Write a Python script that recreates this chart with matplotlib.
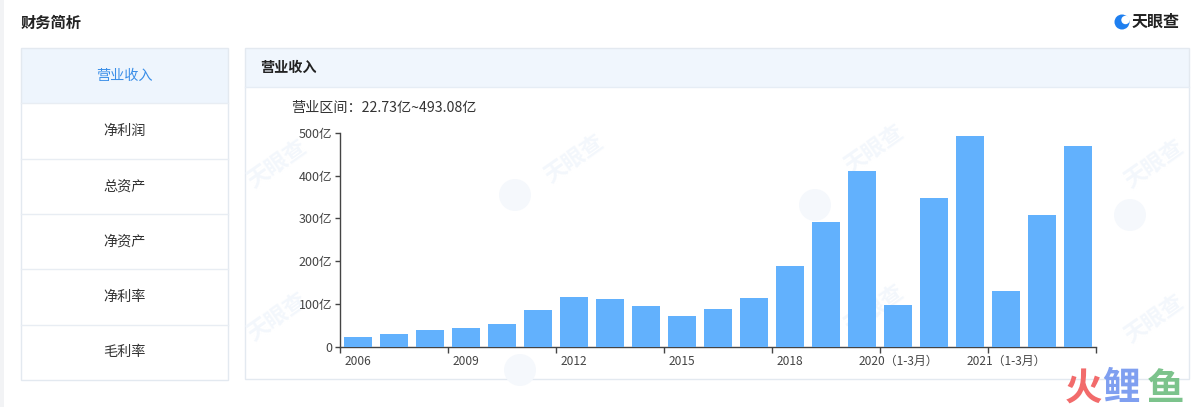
import matplotlib
matplotlib.use("Agg")
import matplotlib.pyplot as plt
from matplotlib.patches import Rectangle, Circle
import numpy as np

plt.rcParams['font.family'] = ['Noto Sans CJK SC', 'DejaVu Sans']

# data (亿元)
periods = ["2006", "2007", "2008", "2009", "2010", "2011", "2012", "2013",
           "2014", "2015", "2016", "2017", "2018", "2019（1-9月）", "2019",
           "2020（1-3月）", "2020（1-9月）", "2020", "2021（1-3月）",
           "2021（1-6月）", "2021（1-9月）"]
revenue = [22.73, 31, 39, 44, 54, 86, 116, 111, 95, 72, 89, 115, 188,
           291, 410, 97, 347, 493.08, 130, 308, 468]
yticks = [0, 100, 200, 300, 400, 500]
ytick_labels = ["0", "100亿", "200亿", "300亿", "400亿", "500亿"]
menu_items = ["营业收入", "净利润", "总资产", "净资产", "净利率", "毛利率"]
label_every = 3

W, H = 1200, 407
fig = plt.figure(figsize=(W / 100, H / 100), dpi=100)
fig.patch.set_facecolor("white")

# page furniture drawn in pixel coordinates
ui = fig.add_axes([0, 0, 1, 1])
ui.set_xlim(0, W)
ui.set_ylim(H, 0)
ui.axis("off")

ui.add_patch(Rectangle((0, 0), 4, H, color="#f2f3f5", lw=0))
ui.text(21, 23, "财务简析", fontsize=11, color="#222", va="center", fontweight="bold")

# logo top right
ui.add_patch(Circle((1122, 22), 7.5, color="#1e7ff0", lw=0))
ui.add_patch(Circle((1125.5, 20), 4.2, color="white", lw=0))
ui.text(1132, 22, "天眼查", fontsize=11.5, color="#222", va="center", fontweight="bold")

# left menu
box_x0, box_x1, box_y0, row_h = 21, 228, 48, 55.3
ui.add_patch(Rectangle((box_x0, box_y0), box_x1 - box_x0, row_h, color="#eef5fd", lw=0))
for i, name in enumerate(menu_items):
    yc = box_y0 + row_h * (i + 0.5)
    color = "#3a8ee8" if i == 0 else "#333333"
    ui.text((box_x0 + box_x1) / 2, yc, name, fontsize=10.2, color=color, ha="center", va="center")
    if i > 0:
        ui.plot([box_x0, box_x1], [box_y0 + row_h * i] * 2, color="#e8edf3", lw=1)
ui.add_patch(Rectangle((box_x0, box_y0), box_x1 - box_x0, row_h * 6,
                       fill=False, ec="#e3e9f0", lw=1))

# right panel
px0, px1, py0, py1 = 245, 1189, 48, 379
ui.add_patch(Rectangle((px0, py0), px1 - px0, 39, color="#f0f6fd", lw=0))
ui.plot([px0, px1], [py0 + 39] * 2, color="#e6edf5", lw=1)
ui.add_patch(Rectangle((px0, py0), px1 - px0, py1 - py0, fill=False, ec="#e3e9f0", lw=1))
ui.text(260, 68, "营业收入", fontsize=10.2, color="#222", va="center", fontweight="bold")
ui.text(291, 108, "营业区间：22.73亿~493.08亿", fontsize=10.2, color="#333", va="center")

# faint watermarks
for wx, wy in [(278, 165), (278, 318), (575, 160), (875, 150), (875, 310), (1155, 165), (1155, 320)]:
    ui.text(wx, wy, "天眼查", fontsize=16, color="#f3f7fc", rotation=35,
            ha="center", va="center", fontweight="bold")
for cx, cy in [(515, 195), (815, 205), (1130, 215), (520, 370)]:
    ui.add_patch(Circle((cx, cy), 16, color="#f5f8fc", lw=0))

# bottom right site mark
ui.text(1083, 388, "火", fontsize=27, color="#f26b6b", ha="center", va="center", fontweight="bold")
ui.text(1121, 388, "鲤", fontsize=27, color="#7f9ff0", ha="center", va="center", fontweight="bold")
ui.text(1166, 388, "鱼", fontsize=27, color="#7cc38c", ha="center", va="center", fontweight="bold")

# chart
ax_l, ax_r, ax_b, ax_t = 340, 1096, 347, 132.7
ax = fig.add_axes([ax_l / W, (H - ax_b) / H, (ax_r - ax_l) / W, (ax_b - ax_t) / H])
ax.patch.set_visible(False)

x = np.arange(len(periods))
ax.bar(x, revenue, width=0.8, color="#62b1fd", zorder=3)
ax.set_xlim(-0.5, len(periods) - 0.5)
ax.set_ylim(0, 500)

for side in ["top", "right"]:
    ax.spines[side].set_visible(False)
for side in ["left", "bottom"]:
    ax.spines[side].set_color("#444444")
    ax.spines[side].set_linewidth(1)

ax.set_yticks(yticks)
ax.set_yticklabels(ytick_labels)
ax.tick_params(axis="y", length=3.5, width=1, color="#444444", labelsize=9,
               labelcolor="#444444", pad=2)

label_pos = x[::label_every]
ax.set_xticks(label_pos)
ax.set_xticklabels([periods[i] for i in label_pos])
ax.set_xticks(np.arange(-0.5, len(periods), label_every), minor=True)
ax.tick_params(axis="x", which="major", length=0, labelsize=8.6, labelcolor="#444444", pad=6)
ax.tick_params(axis="x", which="minor", length=4, width=1, color="#444444")

fig.savefig("out.png", dpi=100)
